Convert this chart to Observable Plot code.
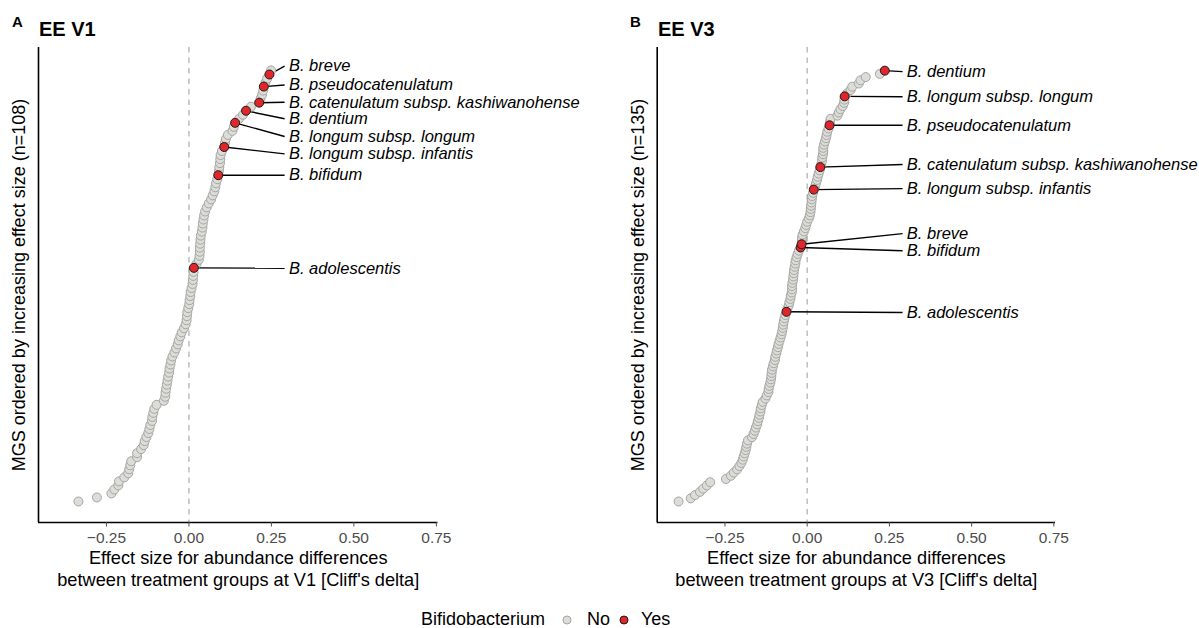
<!DOCTYPE html>
<html>
<head>
<meta charset="utf-8">
<script src="https://cdn.jsdelivr.net/npm/d3@7"></script>
<script src="https://cdn.jsdelivr.net/npm/@observablehq/plot@0.6"></script>
<style>
  html, body { margin: 0; padding: 0; background: white; }
  #root { position: relative; width: 1199px; height: 628px; overflow: hidden; font-family: "Liberation Sans", Arial, Helvetica, sans-serif; background: white; }
  .panel { position: absolute; top: 0; }
  .tag { position: absolute; font-weight: bold; font-size: 15px; color: #000; z-index: 2; }
  .ttl { position: absolute; font-weight: bold; font-size: 20px; color: #000; z-index: 2; }
  #legend { position: absolute; top: 0; left: 0; width: 1199px; height: 628px; z-index: 2; pointer-events: none; }
  #legend span { position: absolute; top: 609px; font-size: 18px; color: #000; white-space: nowrap; }
  #legend svg { position: absolute; top: 614px; }
</style>
</head>
<body>
<div id="root">
  <div id="panelA" class="panel" style="left:0px;"></div>
  <div id="panelB" class="panel" style="left:599px;"></div>
  <div class="tag" style="left:12px;top:13px;">A</div>
  <div class="ttl" style="left:39px;top:18px;">EE V1</div>
  <div class="tag" style="left:630px;top:13px;">B</div>
  <div class="ttl" style="left:658px;top:18px;">EE V3</div>
  <div id="legend"></div>
</div>
<script>
// ---------- data ----------
// Effect sizes (Cliff's delta) of MGS, in increasing order (rank = index + 1)
const v1Effect = [
  -0.335, -0.279, -0.235, -0.226, -0.214, -0.212, -0.196, -0.184, -0.181, -0.178,
  -0.175, -0.157, -0.157, -0.145, -0.137, -0.134, -0.129, -0.123, -0.120, -0.117,
  -0.112, -0.111, -0.108, -0.105, -0.098, -0.076, -0.072, -0.071, -0.069, -0.067,
  -0.065, -0.063, -0.060, -0.059, -0.056, -0.054, -0.050, -0.044, -0.039, -0.034,
  -0.031, -0.026, -0.022, -0.015, -0.010, -0.007, -0.006, -0.005, -0.002, 0.001,
  0.002, 0.004, 0.005, 0.008, 0.011, 0.012, 0.013, 0.014, 0.015, 0.023,
  0.030, 0.032, 0.033, 0.033, 0.034, 0.035, 0.036, 0.039, 0.041, 0.042,
  0.044, 0.046, 0.049, 0.054, 0.060, 0.067, 0.072, 0.077, 0.080, 0.082,
  0.086, 0.089, 0.091, 0.092, 0.094, 0.095, 0.096, 0.100, 0.107, 0.109,
  0.112, 0.118, 0.132, 0.136, 0.140, 0.152, 0.164, 0.173, 0.188, 0.213,
  0.217, 0.222, 0.225, 0.227, 0.232, 0.237, 0.244, 0.249
];
const v1BifRanks = [107, 104, 100, 98, 95, 89, 82, 59];
const v1BifNames = [
  "B. breve", "B. pseudocatenulatum", "B. catenulatum subsp. kashiwanohense",
  "B. dentium", "B. longum subsp. longum", "B. longum subsp. infantis",
  "B. bifidum", "B. adolescentis"
];
const v1LabelRanks = [109.1, 104.4, 100.1, 96.0, 91.6, 87.3, 82.0, 58.9];

const v3Effect = [
  -0.391, -0.354, -0.341, -0.326, -0.316, -0.305, -0.295, -0.247, -0.232, -0.223,
  -0.213, -0.206, -0.200, -0.196, -0.193, -0.190, -0.187, -0.185, -0.183, -0.180,
  -0.168, -0.163, -0.159, -0.156, -0.152, -0.150, -0.147, -0.145, -0.142, -0.141,
  -0.138, -0.135, -0.127, -0.123, -0.118, -0.117, -0.115, -0.112, -0.110, -0.109,
  -0.108, -0.107, -0.104, -0.102, -0.098, -0.097, -0.094, -0.092, -0.089, -0.087,
  -0.084, -0.081, -0.078, -0.076, -0.074, -0.073, -0.071, -0.069, -0.066, -0.063,
  -0.060, -0.056, -0.054, -0.051, -0.050, -0.047, -0.046, -0.046, -0.045, -0.043,
  -0.042, -0.041, -0.040, -0.038, -0.036, -0.035, -0.032, -0.029, -0.025, -0.020,
  -0.017, -0.016, -0.016, -0.014, -0.010, -0.006, -0.003, 0.000, 0.005, 0.008,
  0.010, 0.011, 0.012, 0.013, 0.014, 0.015, 0.018, 0.020, 0.024, 0.027,
  0.030, 0.032, 0.035, 0.038, 0.040, 0.043, 0.045, 0.046, 0.048, 0.049,
  0.049, 0.051, 0.054, 0.057, 0.059, 0.061, 0.065, 0.068, 0.069, 0.071,
  0.092, 0.096, 0.101, 0.108, 0.112, 0.113, 0.114, 0.122, 0.132, 0.137,
  0.157, 0.162, 0.178, 0.221, 0.236
];
const v3BifRanks = [135, 127, 118, 105, 98, 81, 80, 60];
const v3BifNames = [
  "B. dentium", "B. longum subsp. longum", "B. pseudocatenulatum",
  "B. catenulatum subsp. kashiwanohense", "B. longum subsp. infantis",
  "B. breve", "B. bifidum", "B. adolescentis"
];
const v3LabelRanks = [134.7, 126.9, 118.0, 105.8, 98.3, 84.3, 79.0, 59.8];

const xTicks = [-0.25, 0, 0.25, 0.5, 0.75];
const legendTitle = "Bifidobacterium";
const legendLabels = ["No", "Yes"];

// ---------- styling ----------
const FONT = '"Liberation Sans", Arial, Helvetica, sans-serif';
const GRAY_FILL = "#dcdcd8", GRAY_STROKE = "#a5a5a1";
const RED_FILL = "#e0262a", RED_STROKE = "#1a1a1a";
const X_DOMAIN = [-0.456, 0.755];
const LABEL_X = 0.303;

function panel(cfg) {
  const bifSet = new Set(cfg.bifRanks);
  const pts = cfg.effect.map((v, i) => ({v, rank: i + 1, bif: bifSet.has(i + 1)}));
  const gray = pts.filter(d => !d.bif);
  const red = pts.filter(d => d.bif);
  const labels = cfg.bifRanks.map((r, i) => ({
    v: cfg.effect[r - 1], rank: r, name: cfg.bifNames[i], labelRank: cfg.labelRanks[i]
  }));
  return Plot.plot({
    width: 600, height: 600,
    marginLeft: cfg.marginLeft, marginRight: cfg.marginRight,
    marginTop: 47, marginBottom: 78,
    x: {domain: X_DOMAIN, axis: null},
    y: {domain: cfg.yDomain, axis: null},
    style: {fontFamily: FONT, background: "transparent", overflow: "visible"},
    marks: [
      Plot.ruleX([0], {stroke: "#bdbdbd", strokeWidth: 1.5, strokeDasharray: "5.5,5"}),
      Plot.ruleX([X_DOMAIN[0]], {stroke: "black", strokeWidth: 1.6}),
      Plot.ruleY([cfg.yDomain[0]], {stroke: "black", strokeWidth: 1.6}),
      Plot.axisX({ticks: xTicks, tickFormat: d3.format(".2f"), tickSize: 4.5, tickPadding: 5,
                  fontSize: 15.5, color: "#4d4d4d", label: null}),
      Plot.link(labels, {x1: "v", y1: "rank", x2: () => LABEL_X - 0.013, y2: "labelRank",
                         stroke: "black", strokeWidth: 1.4}),
      Plot.dot(gray, {x: "v", y: "rank", r: 4.5, fill: GRAY_FILL, stroke: GRAY_STROKE, strokeWidth: 1}),
      Plot.dot(red, {x: "v", y: "rank", r: 4.5, fill: RED_FILL, stroke: RED_STROKE, strokeWidth: 1}),
      Plot.text(labels, {x: () => LABEL_X, y: "labelRank", text: "name", textAnchor: "start",
                         fontStyle: "italic", fontSize: 16.5, fill: "black"}),
      Plot.text([cfg.yTitle], {frameAnchor: "left", textAnchor: "middle", dx: -19, rotate: -90,
                               fontSize: 18, fill: "black"}),
      Plot.text([cfg.xTitle], {frameAnchor: "bottom", textAnchor: "middle", dy: 26, lineAnchor: "top",
                               lineHeight: 1.22, fontSize: 18.2, fill: "black"})
    ]
  });
}

document.getElementById("panelA").appendChild(panel({
  effect: v1Effect, bifRanks: v1BifRanks, bifNames: v1BifNames, labelRanks: v1LabelRanks,
  yDomain: [-4.21, 113.7], marginLeft: 38, marginRight: 162.5,
  yTitle: "MGS ordered by increasing effect size (n=108)",
  xTitle: "Effect size for abundance differences\nbetween treatment groups at V1 [Cliff's delta]"
}));
document.getElementById("panelB").appendChild(panel({
  effect: v3Effect, bifRanks: v3BifRanks, bifNames: v3BifNames, labelRanks: v3LabelRanks,
  yDomain: [-5.53, 142.2], marginLeft: 57.7, marginRight: 144,
  yTitle: "MGS ordered by increasing effect size (n=135)",
  xTitle: "Effect size for abundance differences\nbetween treatment groups at V3 [Cliff's delta]"
}));

// legend
const leg = d3.select("#legend");
leg.append("span").style("left", "421px").text(legendTitle);
const swatches = [[GRAY_FILL, GRAY_STROKE, 567, 587], [RED_FILL, RED_STROKE, 624, 641]];
legendLabels.forEach((lab, i) => {
  const [fill, stroke, cx, tx] = swatches[i];
  const s = leg.append("svg").attr("width", 12).attr("height", 12).style("left", (cx - 6) + "px");
  s.append("circle").attr("cx", 6).attr("cy", 6).attr("r", 4)
    .attr("fill", fill).attr("stroke", stroke).attr("stroke-width", 1);
  leg.append("span").style("left", tx + "px").text(lab);
});
</script>
</body>
</html>
